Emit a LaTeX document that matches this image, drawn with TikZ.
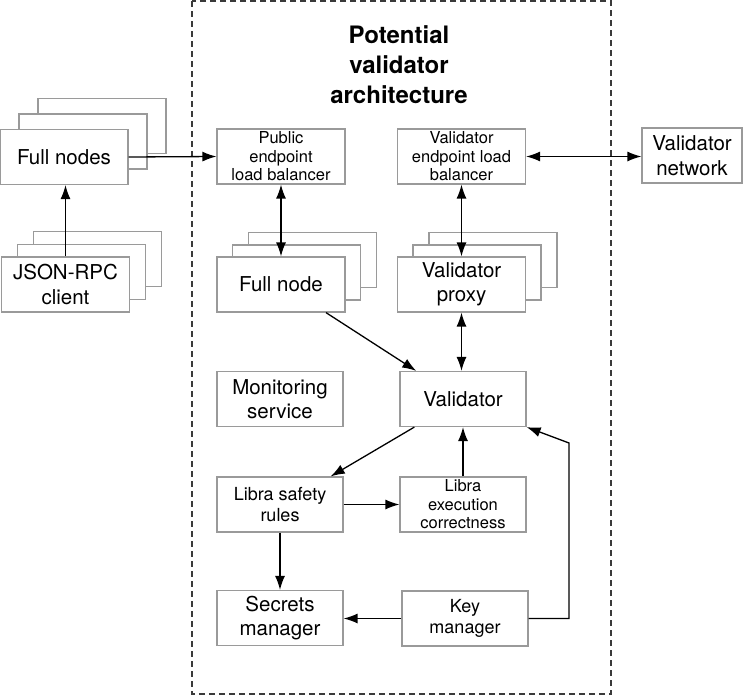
\documentclass[tikz,border=0pt]{standalone}
\usepackage{fontspec}
\setmainfont{TeX Gyre Heros}
\usepackage{tikz}
\usetikzlibrary{arrows.meta,positioning}
\definecolor{boxgray}{HTML}{9A9A9A}
\definecolor{framegray}{HTML}{3A3A3A}
\tikzstyle{box}=[draw=boxgray, line width=1.2pt, fill=white, minimum width=128pt, minimum height=55pt, inner sep=0pt, align=center, font=\fontsize{20.5}{24.5}\selectfont]
\tikzstyle{smallbox}=[box, font=\fontsize{16.5}{18.5}\selectfont]
\tikzstyle{midbox}=[box, font=\fontsize{18}{21.5}\selectfont]
\tikzstyle{link}=[line width=1.3pt, >={Latex[length=14pt,width=10pt]}]

\begin{document}
\begin{tikzpicture}[x=1pt,y=-1pt]
\useasboundingbox (0,0) rectangle (744,696);
%\draw[help lines,step=50] (0,0) grid (744,696);
\draw [framegray, line width=1.4pt, dash pattern=on 6pt off 4pt] (192,1) rectangle (611,694);
\node [font=\bfseries\fontsize{24}{30}\selectfont, align=center] (title) at (399,65) {Potential\\validator\\architecture};
% stacked boxes
\foreach \n/\x/\y in {2/102/126, 1/83/141.5} \node [box] (fullsb\n) at (\x,\y) {};
\node [box] (fulls) at (64,157) {Full nodes};
\foreach \n/\x/\y in {2/97.5/259, 1/81.5/272} \node [box] (jsonb\n) at (\x,\y) {};
\node [box] (json) at (65.5,284.5) {JSON-RPC\\client};
\foreach \n/\x/\y in {2/312.5/260, 1/296.5/272.5} \node [box] (fullb\n) at (\x,\y) {};
\node [box] (full) at (281,284.5) {Full node};
\foreach \n/\x/\y in {2/493/260, 1/477/272.5} \node [box] (proxyb\n) at (\x,\y) {};
\node [box] (proxy) at (461.5,284.5) {Validator\\proxy};
% single boxes
\node [smallbox] (pub) at (281,156.5) {Public\\endpoint\\load balancer};
\node [smallbox] (vlb) at (461.5,156.5) {Validator\\endpoint load\\balancer};
\node [box, minimum width=100pt] (vnet) at (692,155.5) {Validator\\network};
\node [box, minimum width=126pt] (mon) at (280,399) {Monitoring\\service};
\node [box, minimum width=126pt] (val) at (463,399) {Validator};
\node [midbox, minimum width=126pt] (safety) at (280,504.5) {Libra safety\\rules};
\node [smallbox, minimum width=126pt] (exec) at (463,504.5) {Libra\\execution\\correctness};
\node [box, minimum width=126pt] (secrets) at (280,618) {Secrets\\manager};
\node [midbox, minimum width=126pt] (key) at (465,618.5) {Key\\manager};
\coordinate (kturn) at (569,443);
% connectors
\draw [link,->] (fulls.east) -- (pub.west);
\draw [link,->] (json.north) -- (json.north |- fulls.south);
\draw [link,<->] (pub.south) -- (full.north);
\draw [link,<->] (vlb.south) -- (vlb.south |- proxy.north);
\draw [link,<->] (vlb.east) -- (vlb.east -| vnet.west);
\draw [link,->] (full.-32) -- (val.149);
\draw [link,<->] (proxy.south) -- (proxy.south |- val.north);
\draw [link,->] (val.210) -- (safety.29);
\draw [link,->] (safety.east) -- (safety.east -| exec.west);
\draw [link,->] (exec.north) -- (exec.north |- val.south);
\draw [link,->] (safety.south) -- (safety.south |- secrets.north);
\draw [link,->] (key.west) -- (key.west -| secrets.east);
\draw [link,->] (key.east) -| (kturn) -- (val.south east);
\end{tikzpicture}
\end{document}
